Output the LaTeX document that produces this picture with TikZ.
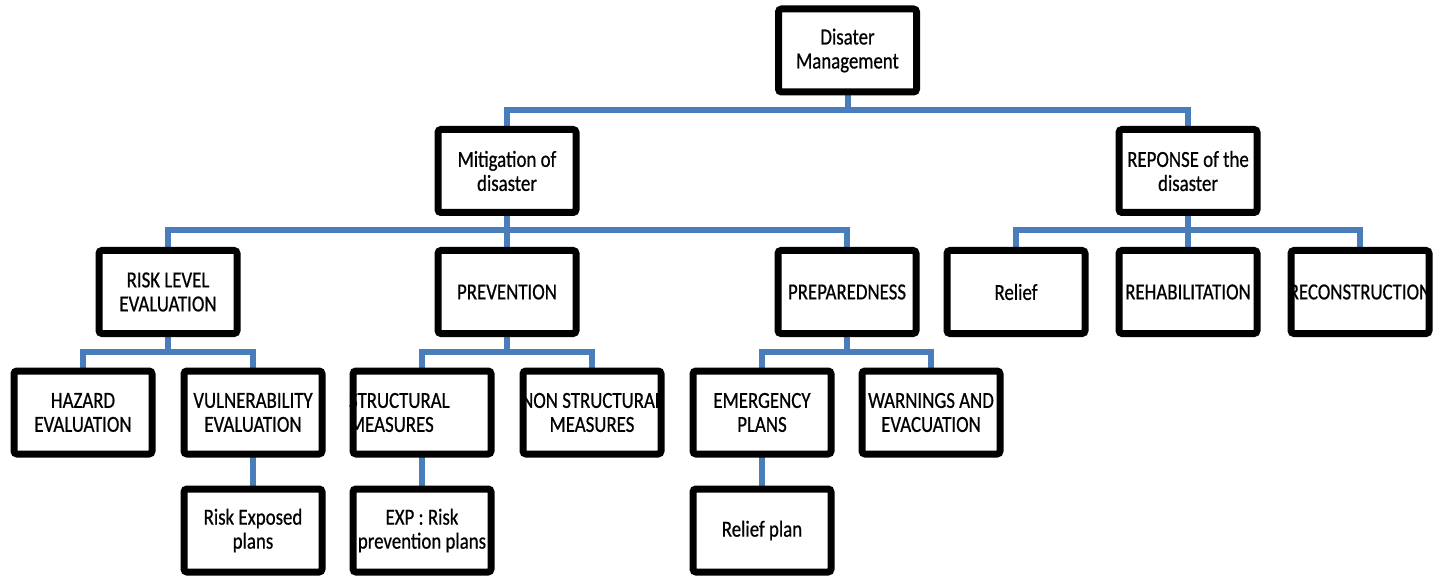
\documentclass[tikz,border=0pt]{standalone}
\usepackage{fontspec}
\setmainfont{Carlito}[FakeStretch=0.82,FakeBold=0.6]
\definecolor{linkblue}{RGB}{74,126,187}
\begin{document}
\begin{tikzpicture}[x=1pt,y=-1pt,
  box/.style={minimum width=138pt,minimum height=83pt,inner sep=0pt,
    align=center,font=\fontsize{23}{24}\selectfont},
  frame/.style={draw=black,line width=7pt,rounded corners=3pt},
  link/.style={draw=linkblue,line width=6pt}]
\useasboundingbox (0,0) rectangle (1442,577);

% box contents (frames are drawn last, over the connectors)
\node[box] (root) at (847.5,50.5) {Disater\\Management};
\node[box] (mit)  at (507,171) {Mitigation of\\disaster};
\node[box] (rep)  at (1188,171) {REPONSE of the\\disaster};

\node[box] (risk)  at (168,292)  {RISK LEVEL\\EVALUATION};
\node[box] (prev)  at (507,292)  {PREVENTION};
\node[box] (prep)  at (847,292)  {PREPAREDNESS};
\node[box] (relf)  at (1016,292) {Relief};
\node[box] (rehab) at (1188,292) {REHABILITATION};
\node[box] (recon) at (1360,292) {RECONSTRUCTION};

\node[box] (haz)  at (83,412.5)  {HAZARD\\EVALUATION};
\node[box] (vul)  at (253,412.5) {VULNERABILITY\\EVALUATION};
\node[box,text width=146pt,align=left] (str) at (422,412.5) {STRUCTURAL\\MEASURES};
\node[box] (nst)  at (592,412.5) {NON STRUCTURAL\\MEASURES};
\node[box] (emg)  at (762,412.5) {EMERGENCY\\PLANS};
\node[box] (warn) at (931,412.5) {WARNINGS AND\\EVACUATION};

\node[box] (rexp)  at (253,530.5) {Risk Exposed\\plans};
\node[box] (expr)  at (422,530.5) {EXP : Risk\\prevention plans};
\node[box] (rplan) at (762,530.5) {Relief plan};

% bus levels
\coordinate (bus0) at (0,110);
\coordinate (bus1) at (0,230);
\coordinate (bus2) at (0,352);

% connectors
\foreach \c in {mit,rep}
  \draw[link] (root.south) -- (root.south |- bus0) -| (\c.north);
\foreach \c in {risk,prev,prep}
  \draw[link] (mit.south) -- (mit.south |- bus1) -| (\c.north);
\foreach \c in {relf,rehab,recon}
  \draw[link] (rep.south) -- (rep.south |- bus1) -| (\c.north);
\foreach \c in {haz,vul}
  \draw[link] (risk.south) -- (risk.south |- bus2) -| (\c.north);
\foreach \c in {str,nst}
  \draw[link] (prev.south) -- (prev.south |- bus2) -| (\c.north);
\foreach \c in {emg,warn}
  \draw[link] (prep.south) -- (prep.south |- bus2) -| (\c.north);
\draw[link] (vul.south) -- (rexp.north);
\draw[link] (str.south) -- (expr.north);
\draw[link] (emg.south) -- (rplan.north);

% frames
\foreach \n in {root,mit,rep,risk,prev,prep,relf,rehab,recon,
                haz,vul,str,nst,emg,warn,rexp,expr,rplan}
  \draw[frame] (\n.center) ++(-69,-41.5) rectangle ++(138,83);
\end{tikzpicture}
\end{document}
